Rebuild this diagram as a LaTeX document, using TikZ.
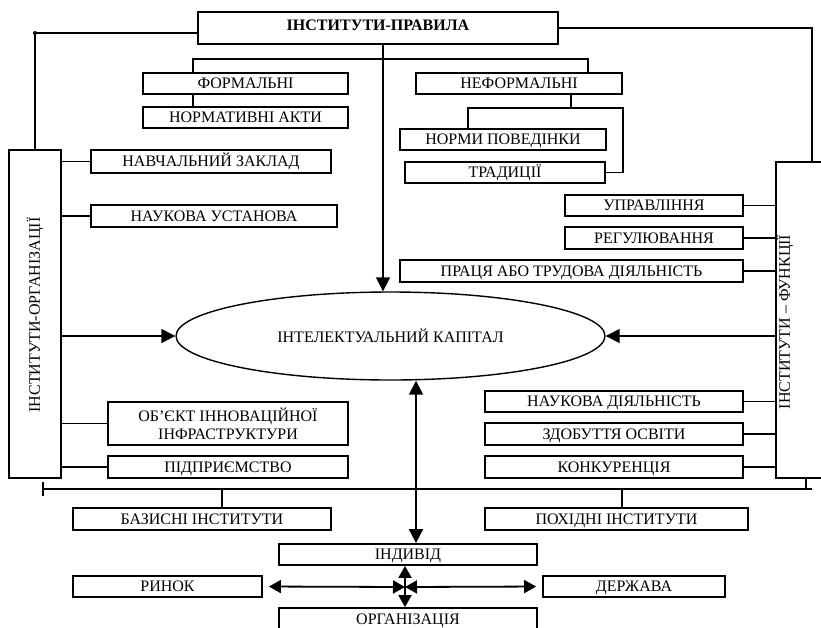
\documentclass[tikz,border=0pt]{standalone}
\usepackage{fontspec}
\setmainfont{Liberation Serif}
\usetikzlibrary{arrows.meta,shapes.geometric}
\begin{document}
\begin{tikzpicture}[x=1pt,y=-1pt,
  every node/.style={font=\fontsize{16}{18}\selectfont},
  box/.style={draw,line width=1.8pt,inner sep=0pt,align=center,text height=10.5pt,text depth=0pt},
  box2/.style={draw,line width=1.8pt,inner sep=0pt,align=center},
  ln/.style={line width=1.8pt},
  arr/.style={ln,-{Triangle[length=14pt,width=14pt]}},
  dbl/.style={ln,{Triangle[length=14pt,width=14pt]}-{Triangle[length=14pt,width=14pt]}},
  sdbl/.style={ln,{Triangle[length=12pt,width=13pt]}-{Triangle[length=12pt,width=13pt]}}
]
\useasboundingbox (0,0) rectangle (821,627);
% boxes
\node[box,minimum width=360pt,minimum height=32pt,text depth=6pt,font=\fontsize{16}{18}\selectfont\bfseries] (title) at (378,28) {ІНСТИТУТИ-ПРАВИЛА};
\node[box,minimum width=205pt,minimum height=21pt] (form) at (245.5,83.5) {ФОРМАЛЬНІ};
\node[box,minimum width=205pt,minimum height=21pt] (norm) at (245.5,117.5) {НОРМАТИВНІ АКТИ};
\node[box,minimum width=206pt,minimum height=21pt] (neform) at (519,83.5) {НЕФОРМАЛЬНІ};
\node[box,minimum width=206pt,minimum height=21pt] (pov) at (503,139.5) {НОРМИ ПОВЕДІНКИ};
\node[box,minimum width=200pt,minimum height=21pt] (trad) at (505,172.5) {ТРАДИЦІЇ};
\node[box2,minimum width=52pt,minimum height=328pt] (orgbox) at (35,314) {};
\node[rotate=90] (orgtxt) at (35,315) {ІНСТИТУТИ-ОРГАНІЗАЦІЇ};
\node[box,minimum width=240pt,minimum height=23pt] (navch) at (211,161.5) {НАВЧАЛЬНИЙ ЗАКЛАД};
\node[box,minimum width=246pt,minimum height=22pt] (nauk) at (214,216) {НАУКОВА УСТАНОВА};
\node[box2,minimum width=240pt,minimum height=43pt] (obj) at (228,423.5) {ОБ’ЄКТ ІННОВАЦІЙНОЇ\\ІНФРАСТРУКТУРИ};
\node[box,minimum width=240pt,minimum height=22pt] (pidpr) at (228,467) {ПІДПРИЄМСТВО};
\node[box2,minimum width=72pt,minimum height=316pt] (funcbox) at (812,320) {};
\node[rotate=90] (functxt) at (785,322) {ІНСТИТУТИ – ФУНКЦІЇ};
\node[box,minimum width=178pt,minimum height=21pt] (upr) at (654,205.5) {УПРАВЛІННЯ};
\node[box,minimum width=178pt,minimum height=22pt] (reg) at (654,238) {РЕГУЛЮВАННЯ};
\node[box,minimum width=343pt,minimum height=22pt] (praca) at (571.5,271) {ПРАЦЯ АБО ТРУДОВА ДІЯЛЬНІСТЬ};
\node[box,minimum width=258pt,minimum height=21pt] (naukd) at (614,401.5) {НАУКОВА ДІЯЛЬНІСТЬ};
\node[box,minimum width=258pt,minimum height=22pt] (zdob) at (614,434) {ЗДОБУТТЯ ОСВІТИ};
\node[box,minimum width=258pt,minimum height=22pt] (konk) at (614,467) {КОНКУРЕНЦІЯ};
\node[draw,ellipse,line width=1.4pt,inner sep=0pt,minimum width=429pt,minimum height=88pt] (ell) at (390.5,336) {ІНТЕЛЕКТУАЛЬНИЙ КАПІТАЛ};
\node[box,minimum width=258pt,minimum height=22pt] (baz) at (202,519) {БАЗИСНІ ІНСТИТУТИ};
\node[box,minimum width=263pt,minimum height=22pt] (poh) at (616.5,519) {ПОХІДНІ ІНСТИТУТИ};
\node[box,minimum width=258pt,minimum height=21pt] (indiv) at (408,554.5) {ІНДИВІД};
\node[box,minimum width=189pt,minimum height=21pt] (rynok) at (167.5,586.5) {РИНОК};
\node[box,minimum width=182pt,minimum height=21pt] (derzh) at (634,586.5) {ДЕРЖАВА};
\node[box,minimum width=258pt,minimum height=22pt] (organ) at (408,619) {ОРГАНІЗАЦІЯ};
% coordinates
\coordinate (hl) at (43,489);
\coordinate (hr) at (812,489);
\coordinate (c) at (405,587);
% top connectors
\draw[ln] ([yshift=-5pt]title.west) -| (orgbox.north);
\fill ([yshift=-5pt]title.west -| orgbox.north) circle (2pt);
\draw[ln] (title.east) -| (funcbox.north);
\draw[arr] ([xshift=5pt]title.south) -- ([xshift=5pt]title.south |- ell.north);
\draw[ln] ([xshift=-52.5pt]form.north) -- ++(0,-13) -| ([xshift=69pt]neform.north);
\draw[ln] ([xshift=-52.5pt]form.south) -- ([xshift=-52.5pt]norm.north);
\draw[ln] ([xshift=52pt]neform.south) -- ([xshift=52pt,yshift=-13pt]neform.south);
\draw[ln] ([xshift=-35pt]pov.north) |- ([yshift=-13pt]neform.south east) |- (trad.east);
% left side
\draw[ln] (navch.west -| orgbox.east) -- (navch.west);
\draw[ln] (nauk.west -| orgbox.east) -- (nauk.west);
\draw[arr] (ell.west -| orgbox.east) -- (ell.west);
\draw[ln] (obj.west -| orgbox.east) -- (obj.west);
\draw[ln] (pidpr.west -| orgbox.east) -- (pidpr.west);
% right side
\draw[ln] (upr.east) -- (upr.east -| funcbox.west);
\draw[ln] (reg.east) -- (reg.east -| funcbox.west);
\draw[ln] (praca.east) -- (praca.east -| funcbox.west);
\draw[arr] (ell.east -| funcbox.west) -- (ell.east);
\draw[ln] (naukd.east) -- (naukd.east -| funcbox.west);
\draw[ln] (zdob.east) -- (zdob.east -| funcbox.west);
\draw[ln] (konk.east) -- (konk.east -| funcbox.west);
% bottom line
\draw[ln] (hl) -- (hr);
\draw[ln] ([yshift=7pt]hl) -- ([yshift=-7pt]hl);
\draw[ln] ([xshift=-6pt]funcbox.south) -- ([xshift=-6pt]funcbox.south |- hr);
\draw[ln] ([xshift=20pt]baz.north) -- ([xshift=20pt]baz.north |- hl);
\draw[ln] ([xshift=5.5pt]poh.north) -- ([xshift=5.5pt]poh.north |- hl);
% central double arrow
\draw[dbl] ([xshift=8pt]indiv.north |- ell.south) -- ([xshift=8pt]indiv.north);
% cross
\draw[sdbl] (c |- indiv.south) -- (c |- organ.north);
\draw[sdbl,shorten <=6pt] (rynok.east) -- (c);
\draw[sdbl,shorten >=6pt] (c) -- (derzh.west);
\end{tikzpicture}
\end{document}
